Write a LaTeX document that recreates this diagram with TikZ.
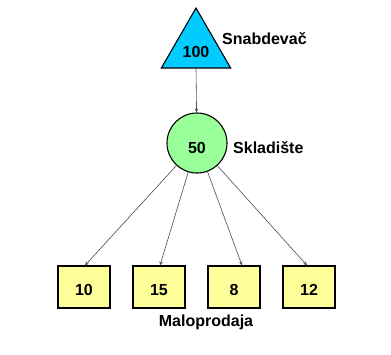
\documentclass[tikz,border=0pt]{standalone}
\usepackage{fontspec}
\setmainfont{Liberation Sans}
\usetikzlibrary{shapes.geometric,arrows.meta}
\definecolor{bleutri}{RGB}{0,204,255}
\definecolor{vertrond}{RGB}{153,255,153}
\definecolor{jaunecarre}{RGB}{255,255,153}
\begin{document}
\begin{tikzpicture}[x=1pt,y=-1pt]
\tikzset{texte/.style={font=\bfseries\fontsize{16}{18}\selectfont, text height=11.5pt, text depth=0pt, inner sep=0pt}}
\tikzset{tritri/.style={draw, line width=1.1pt, fill=bleutri, regular polygon, regular polygon sides=3, minimum size=80pt, inner sep=0pt}}
\tikzset{rond/.style={draw, line width=1.1pt, fill=vertrond, circle, minimum size=60pt, inner sep=0pt}}
\tikzset{carre/.style={draw, line width=1.1pt, fill=jaunecarre, minimum width=52pt, minimum height=42pt, inner sep=0pt}}
\tikzset{fleche/.style={draw=black!70, line width=0.6pt, -{Stealth[length=4pt,width=3.5pt]}}}
\useasboundingbox (0,0) rectangle (391,354);
\node[tritri] (T) at (196,48) {};
\node[texte] (Tn) at (196,52) {100};
\node[texte, anchor=west] (Tl) at (222,38.5) {Snabdevač};
\node[rond] (W) at (197,143) {};
\node[texte] (Wn) at (197,147.5) {50};
\node[texte, anchor=west] (Wl) at (233,147.5) {Skladište};
\node[carre] (R1) at (84,287) {};
\node[carre] (R2) at (159,287) {};
\node[carre] (R3) at (234,287) {};
\node[carre] (R4) at (309,287) {};
\node[texte] (R1n) at (84,290) {10};
\node[texte] (R2n) at (159,290) {15};
\node[texte] (R3n) at (234,290) {8};
\node[texte] (R4n) at (309,290) {12};
\node[texte] (Rl) at (206,320.5) {Maloprodaja};
\draw[fleche] (T.south) -- (W);
\draw[fleche] (W) -- ([xshift=1pt]R1.north);
\draw[fleche] (W) -- ([xshift=1pt]R2.north);
\draw[fleche] (W) -- ([xshift=8pt]R3.north);
\draw[fleche] (W) -- ([xshift=-2pt]R4.north);
\end{tikzpicture}
\end{document}
